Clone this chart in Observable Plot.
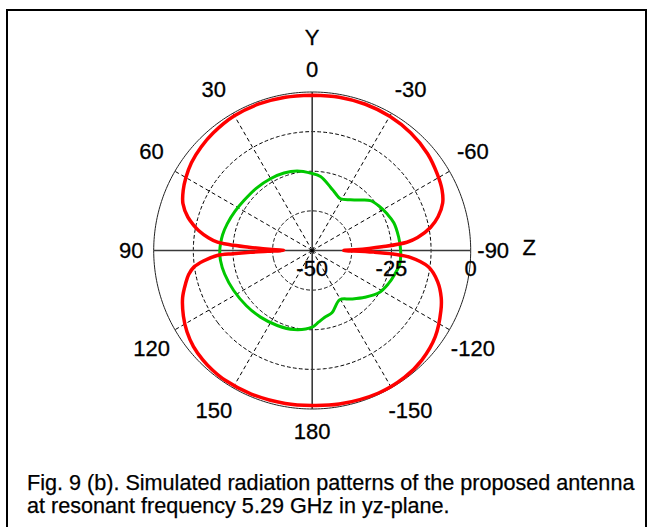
<!DOCTYPE html>
<html>
<head>
<meta charset="utf-8">
<script src="https://cdn.jsdelivr.net/npm/d3@7"></script>
<script src="https://cdn.jsdelivr.net/npm/@observablehq/plot@0.6"></script>
<style>
  html, body { margin: 0; padding: 0; background: #fff; }
  body { width: 653px; height: 527px; overflow: hidden; position: relative;
         font-family: "Liberation Sans", Arial, sans-serif; }
  #frame { position: absolute; left: 6px; top: 9px; width: 641px; height: 540px;
           border: 2px solid #000; border-bottom: none; box-sizing: border-box; }
  #chart { position: absolute; left: 0; top: 0; }
  #caption { position: absolute; left: 27px; top: 471px; font-size: 21.6px;
             line-height: 23px; color: #000; white-space: nowrap;
             -webkit-text-stroke: 0.25px #000; }
</style>
</head>
<body>
<div id="frame"></div>
<div id="chart"></div>
<div id="caption">Fig. 9 (b). Simulated radiation patterns of the proposed antenna<br>at resonant frequency 5.29 GHz in yz-plane.</div>
<script>
// ---------- data (angle in degrees, 0 = top, positive counter-clockwise; gain in dB) ----------
const angleTicks  = [0, 30, 60, 90, 120, 150, 180, -150, -120, -90, -60, -30];
const spokeAngles = [30, 60, 120, 150, -30, -60, -120, -150];
const axisAngles  = [0, 90, 180, -90];
const ringDb      = [-37.5, -25, -12.5];
const radialTicks = [-50, -25, 0];
const dbMin = -50, dbMax = 0;

const redAngle = [
  0, 10, 20, 30, 40, 47, 54, 60, 65, 70, 75, 78, 80, 83, 85, 86, 87, 88, 89, 89.7,
  90.3, 91, 91.6, 92.3, 93, 95.5, 98, 101, 104.7, 110, 117, 123, 129, 135, 140, 146, 157, 170, 180,
  -170, -155, -144, -135, -125, -115, -110, -104, -98, -94, -92.5, -91.5, -90.6, -90.2,
  -89.7, -89, -88, -87, -85, -83, -79, -75, -70, -65, -58.5, -50, -40, -30, -20, -10, 0
];
const redDb = [
  -1.0, -0.9, -0.8, -0.9, -1.5, -2.1, -2.9, -4.0, -5.1, -6.6, -9.4, -11.8, -13.6, -17.0, -20.0, -24.0, -30.0, -34.5, -38.5, -41.0,
  -40.0, -36.0, -30.5, -25.0, -20.0, -15.5, -12.3, -10.3, -8.7, -6.5, -4.4, -2.9, -1.8, -1.2, -0.9, -0.7, -0.8, -1.0, -1.1,
  -0.8, -0.4, -0.5, -1.1, -2.6, -5.2, -6.7, -9.2, -13.0, -19.0, -24.5, -30.5, -37.0, -40.0,
  -40.0, -36.5, -32.0, -28.0, -20.0, -16.5, -12.0, -8.9, -6.2, -4.8, -3.75, -2.5, -1.6, -1.1, -0.9, -0.9, -1.0
];

const greenAngle = [
  0, 10.7, 20, 30.2, 42, 53.8, 63, 72.6, 80, 85.8, 90,
  96.2, 105, 117, 130, 142.2, 155, 166.9, 180,
  -175, -169.3, -162.4, -150.8, -141.4, -131.6, -122.4, -113.7, -106, -98.6, -90,
  -81.3, -71.2, -63.9, -56.3, -49.4, -43.7, -37, -28.7, -22, -16.1, -6.4, 0
];
const greenDb = [
  -25.7, -24.5, -24.0, -23.8, -23.6, -23.3, -22.7, -21.9, -21.3, -21.0, -20.85,
  -20.9, -21.4, -22.2, -22.9, -23.4, -23.9, -24.4, -25.8,
  -27.3, -28.6, -29.4, -32.2, -30.4, -27.8, -25.1, -23.8, -22.9, -22.05, -22.1,
  -22.4, -22.8, -23.7, -24.7, -25.8, -27.95, -30.0, -31.4, -30.5, -29.2, -26.5, -25.7
];

// ---------- mapping to a polar (azimuthal) projection: pole = -50 dB ----------
const toR   = db => db - dbMin;          // angular distance from pole (deg)
const toLon = a => 180 + a;              // 0 at top, counter-clockwise positive
const toLat = db => 90 - toR(db);
const circle = r => d3.geoCircle().center([0, 90]).radius(r).precision(1)();
const rad = a => a * Math.PI / 180;

const outerPx = 158.5;                    // pixel radius of the 0 dB circle
const pxToDeg = px => px / outerPx * (dbMax - dbMin);
// label placement around the rim (slightly pushed toward the diagonals)
const labelLon = a => toLon(a + 1.7 * Math.sin(rad(4 * a)));
const labelLat = a => 90 - pxToDeg(181 + 8.5 * Math.abs(Math.sin(rad(2 * a))));

const red   = redAngle.map((a, i) => ({a, db: redDb[i]}));
const green = greenAngle.map((a, i) => ({a, db: greenDb[i]}));

const textStyle = {fontSize: 22, fill: "#000", stroke: "#000", strokeWidth: 0.3};

const cx = 311.7, cy = 250, W = 653, H = 470;
const chart = Plot.plot({
  width: W, height: H,
  marginLeft: cx - outerPx, marginTop: cy - outerPx,
  marginRight: W - (cx + outerPx), marginBottom: H - (cy + outerPx),
  projection: {
    type: "azimuthal-equidistant",
    rotate: [0, -90],
    domain: circle(dbMax - dbMin),
    clip: false
  },
  style: {fontFamily: "'Liberation Sans', Arial, sans-serif", fontSize: "22px", color: "#000", background: "transparent", overflow: "visible"},
  marks: [
    Plot.geo(ringDb, {geometry: d => circle(toR(d)), fill: "none", stroke: "#000", strokeWidth: 1, strokeDasharray: "3,3"}),
    Plot.link(spokeAngles, {x1: toLon, y1: 90, x2: toLon, y2: toLat(dbMax), stroke: "#000", strokeWidth: 1, strokeDasharray: "4,3"}),
    Plot.geo([dbMax], {geometry: d => circle(toR(d)), fill: "none", stroke: "#222", strokeWidth: 1}),
    Plot.link(axisAngles, {x1: toLon, y1: 90, x2: toLon, y2: toLat(dbMax), stroke: "#3a3a3a", strokeWidth: 1.6}),
    Plot.line(green, {x: d => toLon(d.a), y: d => toLat(d.db), stroke: "#00c800", strokeWidth: 3, curve: "catmull-rom"}),
    Plot.line(red, {x: d => toLon(d.a), y: d => toLat(d.db), stroke: "#ff0000", strokeWidth: 3.5, curve: "catmull-rom"}),
    Plot.dot([dbMin], {x: 0, y: toLat, r: 1.6, fill: "#000"}),
    Plot.text(angleTicks, {x: labelLon, y: labelLat, text: a => `${a}`, ...textStyle}),
    Plot.text(radialTicks, {x: toLon(-90), y: toLat, dy: 18, text: d => `${d}`, ...textStyle}),
    Plot.text(["Y"], {x: toLon(0), y: 90 - pxToDeg(212.5), text: d => d, ...textStyle}),
    Plot.text(["Z"], {x: toLon(-90), y: 90 - pxToDeg(217), dy: -3, text: d => d, ...textStyle})
  ]
});
document.getElementById("chart").appendChild(chart);
</script>
</body>
</html>
